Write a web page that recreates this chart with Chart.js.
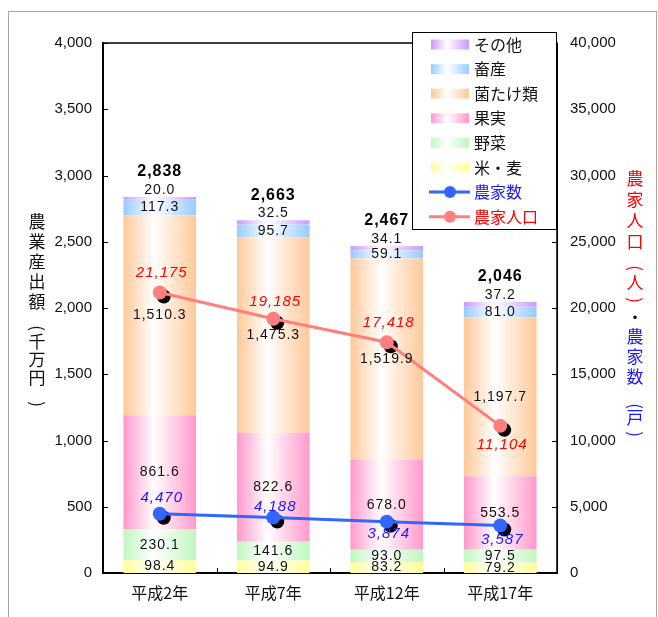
<!DOCTYPE html>
<html>
<head>
<meta charset="utf-8">
<script src="https://cdn.jsdelivr.net/npm/chart.js@4/dist/chart.umd.min.js"></script>
<style>
  body { margin: 0; background: #fff; }
  #wrap { width: 658px; height: 617px; position: relative; }
</style>
</head>
<body>
<div id="wrap"><canvas id="grafica"></canvas></div>
<script>
// datos (千万円)
const years = ["平成2年", "平成7年", "平成12年", "平成17年"];
const komeMugi = [98.4, 94.9, 83.2, 79.2];
const yasai = [230.1, 141.6, 93.0, 97.5];
const kajitsu = [861.6, 822.6, 678.0, 553.5];
const kinoko = [1510.3, 1475.3, 1519.9, 1197.7];
const chikusan = [117.3, 95.7, 59.1, 81.0];
const sonota = [20.0, 32.5, 34.1, 37.2];
const totals = [2838, 2663, 2467, 2046];
// 農家数 (戸) y 農家人口 (人)
const nokaSu = [4470, 4188, 3874, 3587];
const nokaJinko = [21175, 19185, 17418, 11104];

const leftTicksMax = 4000;
const rightTicksMax = 40000;

const NUM_FONT = '"Liberation Sans", Arial, sans-serif';
const JP_FONT = '"Noto Sans CJK JP", "Noto Sans", sans-serif';

function fmt(v, dec) {
  return v.toLocaleString("en-US", { minimumFractionDigits: dec, maximumFractionDigits: dec });
}

function barFill(color) {
  return function (ctx) {
    const chart = ctx.chart;
    const area = chart.chartArea;
    if (!area || ctx.type !== "data") return color;
    const cx = chart.scales.x.getPixelForValue(ctx.dataIndex);
    const w = (area.width / years.length) * 0.64;
    const g = chart.ctx.createLinearGradient(cx - w / 2, 0, cx + w / 2, 0);
    g.addColorStop(0, color);
    g.addColorStop(0.42, "#ffffff");
    g.addColorStop(1, color);
    return g;
  };
}

const barSets = [
  { label: "米・麦", data: komeMugi, color: "#ffff99" },
  { label: "野菜", data: yasai, color: "#c0f7c0" },
  { label: "果実", data: kajitsu, color: "#ff99cc" },
  { label: "菌たけ類", data: kinoko, color: "#ffc999" },
  { label: "畜産", data: chikusan, color: "#99ccff" },
  { label: "その他", data: sonota, color: "#cc99ff" }
];

const datasets = barSets.map(function (b) {
  return {
    type: "bar",
    label: b.label,
    data: b.data,
    baseColor: b.color,
    backgroundColor: barFill(b.color),
    borderWidth: 0,
    yAxisID: "y",
    stack: "s",
    order: 2,
    categoryPercentage: 0.8,
    barPercentage: 0.8
  };
});

datasets.push({
  type: "line", label: "農家数", data: nokaSu, yAxisID: "y1",
  borderColor: "#3366ff", backgroundColor: "#3366ff", borderWidth: 3,
  pointRadius: 7, pointBorderWidth: 0, order: 1, textColor: "#1a1aff",
  labelOffset: [-16, -11, 12, 14]
});
datasets.push({
  type: "line", label: "農家人口", data: nokaJinko, yAxisID: "y1",
  borderColor: "#ff7f7f", backgroundColor: "#ff7f7f", borderWidth: 3,
  pointRadius: 7, pointBorderWidth: 0, order: 1, textColor: "#ff0000",
  labelOffset: [-20, -17, -19, 19]
});

// caracteres verticales; los paréntesis se giran 90°
function vertText(ctx, chars, x, y0) {
  let y = y0;
  chars.forEach(function (c) {
    ctx.fillStyle = c[1];
    if (c[0] === "(" || c[0] === ")") {
      ctx.save();
      ctx.translate(x, y);
      ctx.rotate(Math.PI / 2);
      ctx.fillText(c[0] === "(" ? "(" : ")", 0, 0);
      ctx.restore();
    } else {
      ctx.fillText(c[0], x, y);
    }
    y += c[2];
  });
}

const decoracion = {
  id: "decoracion",
  beforeDraw(chart) {
    const ctx = chart.ctx;
    ctx.save();
    ctx.strokeStyle = "#a6a6a6";
    ctx.lineWidth = 1;
    ctx.strokeRect(8.5, 11.5, 648, 700);
    ctx.restore();
  },
  beforeDatasetDraw(chart, args) {
    const ds = chart.data.datasets[args.index];
    if (ds.type !== "line") return;
    const ctx = chart.ctx;
    ctx.save();
    ctx.fillStyle = "#000";
    args.meta.data.forEach(function (p) {
      ctx.beginPath();
      ctx.arc(p.x + 4, p.y + 4, 7, 0, Math.PI * 2);
      ctx.fill();
    });
    ctx.restore();
  },
  afterDatasetsDraw(chart) {
    const ctx = chart.ctx;
    const area = chart.chartArea;
    ctx.save();
    // marco superior y derecho del área
    ctx.strokeStyle = "#000";
    ctx.lineWidth = 1.5;
    ctx.beginPath();
    ctx.moveTo(area.left, area.top);
    ctx.lineTo(area.right, area.top);
    ctx.lineTo(area.right, area.bottom);
    ctx.stroke();
    ctx.lineWidth = 1;
    // marcas interiores
    chart.scales.y.ticks.forEach(function (t) {
      const y = Math.round(chart.scales.y.getPixelForValue(t.value)) + 0.5;
      ctx.beginPath(); ctx.moveTo(area.left, y); ctx.lineTo(area.left + 5, y); ctx.stroke();
    });
    chart.scales.y1.ticks.forEach(function (t) {
      const y = Math.round(chart.scales.y1.getPixelForValue(t.value)) + 0.5;
      ctx.beginPath(); ctx.moveTo(area.right, y); ctx.lineTo(area.right - 5, y); ctx.stroke();
    });
    const catW = area.width / years.length;
    for (let i = 1; i < years.length; i++) {
      const x = Math.round(area.left + catW * i) + 0.5;
      ctx.beginPath(); ctx.moveTo(x, area.bottom); ctx.lineTo(x, area.bottom - 5); ctx.stroke();
    }

    // etiquetas de segmentos
    ctx.textAlign = "center";
    ctx.textBaseline = "middle";
    ctx.letterSpacing = "1px";
    ctx.font = "14px " + NUM_FONT;
    ctx.fillStyle = "#111";
    const nBars = barSets.length;
    for (let d = 0; d < nBars; d++) {
      const meta = chart.getDatasetMeta(d);
      meta.data.forEach(function (bar, i) {
        const v = chart.data.datasets[d].data[i];
        let y = (bar.y + bar.base) / 2;
        if (d === nBars - 1) y = bar.y - 7;
        ctx.fillText(fmt(v, 1), bar.x, y);
      });
    }
    // totales
    ctx.font = "bold 16px " + NUM_FONT;
    ctx.fillStyle = "#000";
    const top = chart.getDatasetMeta(nBars - 1);
    top.data.forEach(function (bar, i) {
      ctx.fillText(fmt(totals[i], 0), bar.x, bar.y - 25);
    });
    // etiquetas de líneas
    ctx.font = "italic 15px " + NUM_FONT;
    for (let d = nBars; d < chart.data.datasets.length; d++) {
      const ds = chart.data.datasets[d];
      ctx.fillStyle = ds.textColor;
      chart.getDatasetMeta(d).data.forEach(function (p, i) {
        ctx.fillText(fmt(ds.data[i], 0), p.x + 2, p.y + ds.labelOffset[i]);
      });
    }
    ctx.letterSpacing = "0px";
    ctx.restore();
  },
  afterDraw(chart) {
    const ctx = chart.ctx;
    ctx.save();
    // leyenda
    const lx = 412.5, ly = 32.5, lw = 144, lh = 197;
    ctx.fillStyle = "#fff";
    ctx.fillRect(lx, ly, lw, lh);
    ctx.strokeStyle = "#000";
    ctx.lineWidth = 1;
    ctx.strokeRect(lx, ly, lw, lh);
    const items = barSets.slice().reverse().map(function (b) {
      return { label: b.label, color: b.color, kind: "bar", text: "#111" };
    });
    chart.data.datasets.forEach(function (ds) {
      if (ds.type === "line") items.push({ label: ds.label, color: ds.borderColor, kind: "line", text: ds.textColor });
    });
    ctx.font = "16px " + JP_FONT;
    ctx.textAlign = "left";
    ctx.textBaseline = "middle";
    items.forEach(function (it, i) {
      const y = 44.5 + i * 24.6;
      const x0 = 431, x1 = 469;
      if (it.kind === "bar") {
        const g = ctx.createLinearGradient(x0, 0, x1, 0);
        g.addColorStop(0, it.color);
        g.addColorStop(0.42, "#ffffff");
        g.addColorStop(1, it.color);
        ctx.fillStyle = g;
        ctx.fillRect(x0, y - 5, x1 - x0, 10);
      } else {
        ctx.strokeStyle = it.color;
        ctx.lineWidth = 3;
        ctx.beginPath(); ctx.moveTo(x0 - 2, y); ctx.lineTo(x1 + 1, y); ctx.stroke();
        ctx.fillStyle = it.color;
        ctx.beginPath(); ctx.arc((x0 + x1) / 2, y, 6, 0, Math.PI * 2); ctx.fill();
      }
      ctx.fillStyle = it.text;
      ctx.fillText(it.label, 474, y);
    });

    // títulos de ejes (vertical)
    ctx.font = "17px " + JP_FONT;
    ctx.textAlign = "center";
    const k = "#111";
    vertText(ctx, [["農", k, 20], ["業", k, 20], ["産", k, 20], ["出", k, 20], ["額", k, 26],
      ["(", k, 14], ["千", k, 18], ["万", k, 18], ["円", k, 26], [")", k, 20]], 37, 222);
    const r = "#ff0000", b = "#1a1aff";
    vertText(ctx, [["農", r, 21], ["家", r, 21], ["人", r, 21], ["口", r, 26],
      ["(", r, 15], ["人", r, 17], [")", r, 18], ["・", "#111", 19],
      ["農", b, 20], ["家", b, 20], ["数", b, 29], ["(", b, 12], ["戸", b, 16], [")", b, 20]], 635, 179);
    ctx.restore();
  }
};

new Chart("grafica", {
  data: { labels: years, datasets: datasets },
  options: {
    responsive: true,
    maintainAspectRatio: false,
    animation: false,
    layout: { padding: { top: 43, left: 8, right: 0, bottom: 0 } },
    plugins: { legend: { display: false }, tooltip: { enabled: false } },
    scales: {
      x: {
        stacked: true,
        grid: { display: false, drawTicks: false },
        border: { color: "#000", width: 2 },
        ticks: { color: "#111", font: { family: JP_FONT, size: 16 }, padding: 10 },
        afterFit: function (s) { s.height = 44; }
      },
      y: {
        stacked: true,
        min: 0, max: leftTicksMax,
        grid: { display: false, drawTicks: false },
        border: { color: "#000", width: 2 },
        ticks: { stepSize: 500, color: "#111", padding: 11,
          font: { family: NUM_FONT, size: 15 },
          callback: function (v) { return fmt(v, 0); } },
        afterFit: function (s) { s.width = 95; }
      },
      y1: {
        position: "right",
        min: 0, max: rightTicksMax,
        grid: { display: false, drawTicks: false },
        border: { color: "#000", width: 1 },
        ticks: { stepSize: 5000, color: "#111", padding: 13,
          font: { family: NUM_FONT, size: 15 },
          callback: function (v) { return fmt(v, 0); } },
        afterFit: function (s) { s.width = 101; }
      }
    }
  },
  plugins: [decoracion]
});
</script>
</body>
</html>
